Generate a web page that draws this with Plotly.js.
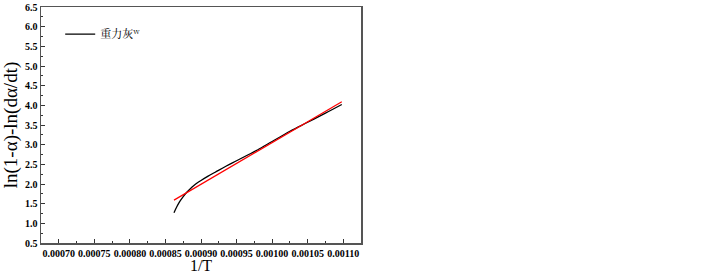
<!DOCTYPE html>
<html><head><meta charset="utf-8">
<script src="https://cdn.plot.ly/plotly-3.0.1.min.js"></script>
<style>body{margin:0;background:#fff}#c{width:720px;height:274px}</style>
</head><body><div id="c"></div>
<script>
const invT = [0.000862, 0.000866, 0.000870, 0.000875, 0.000880, 0.000885, 0.000890, 0.000895, 0.000900, 0.000910, 0.000920, 0.000935, 0.000950, 0.000965, 0.000980, 0.001000, 0.001025, 0.001050, 0.001075, 0.001098];
const yData = [1.27, 1.42, 1.55, 1.68, 1.79, 1.88, 1.96, 2.03, 2.09, 2.20, 2.30, 2.45, 2.59, 2.73, 2.87, 3.08, 3.34, 3.57, 3.80, 4.02];
const fitX = [0.000862, 0.001098];
const fitY = [1.59, 4.09];
const seriesName = '重力灰<sup>w</sup>';
const xTitle = '1/T';
const yTitle = 'ln(1-α)-ln(dα/dt)';

const serif = 'Liberation Serif, Times New Roman, serif';
Plotly.newPlot('c', [
  {x: invT, y: yData, mode: 'lines', name: seriesName, line: {color: '#000', width: 1.3, shape: 'spline'}},
  {x: fitX, y: fitY, mode: 'lines', showlegend: false, line: {color: '#ff0000', width: 1.2}}
], {
  width: 720, height: 274,
  margin: {l: 41, r: 359, t: 7, b: 31},
  paper_bgcolor: '#fff', plot_bgcolor: '#fff',
  showlegend: true,
  legend: {x: 0.06, y: 0.885, xanchor: 'left', yanchor: 'middle', bgcolor: 'rgba(0,0,0,0)',
    font: {family: 'Noto Serif CJK SC, Noto Sans CJK SC, serif', size: 11, color: '#000'}},
  xaxis: {range: [0.000675, 0.001125], tickvals: [0.00070,0.00075,0.00080,0.00085,0.00090,0.00095,0.00100,0.00105,0.00110],
    tickformat: '.5f', ticks: 'inside', ticklen: 4, tickcolor: '#333', showgrid: false, zeroline: false,
    showline: true, linecolor: '#555', linewidth: 1.5, mirror: true,
    minor: {ticks: 'inside', ticklen: 2, dtick: 0.000025, tick0: 0.0007, tickcolor: '#333'},
    tickfont: {family: serif, size: 10, color: '#000', weight: 'bold'},
    title: {text: xTitle, font: {family: serif, size: 16, color: '#000'}, standoff: 4}},
  yaxis: {range: [0.5, 6.5], dtick: 0.5, tick0: 0.5, tickformat: '.1f', ticks: 'inside', ticklen: 4, tickcolor: '#333',
    showgrid: false, zeroline: false, showline: true, linecolor: '#555', linewidth: 1.5, mirror: true,
    minor: {ticks: 'inside', ticklen: 2, dtick: 0.25, tickcolor: '#333'},
    tickfont: {family: serif, size: 10, color: '#000', weight: 'bold'},
    title: {text: yTitle, font: {family: serif, size: 19, color: '#000'}, standoff: 3}}
}, {staticPlot: true});
</script></body></html>
